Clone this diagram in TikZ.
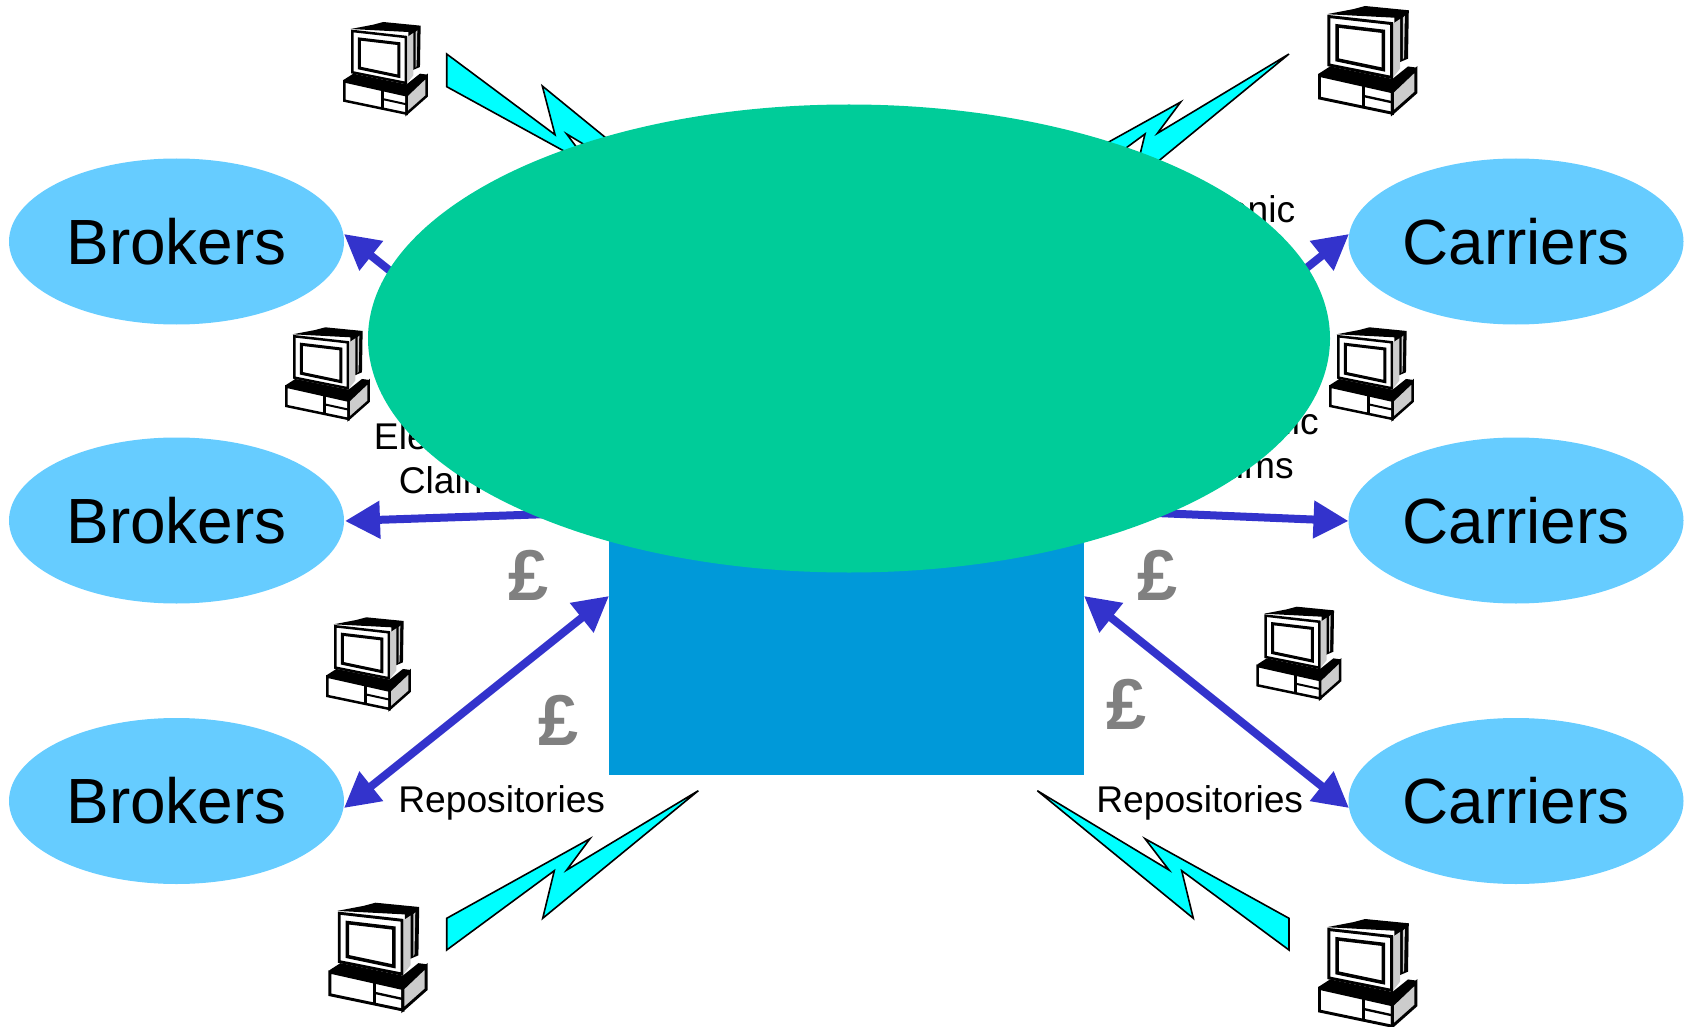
\documentclass[tikz,border=0pt]{standalone}
\usepackage{fontspec}
\setmainfont{Liberation Sans}
\usetikzlibrary{shapes.geometric,arrows.meta}
\definecolor{partyblue}{HTML}{66CCFF}
\definecolor{hubgreen}{HTML}{00CC99}
\definecolor{repoblue}{HTML}{0099D9}
\definecolor{flowblue}{HTML}{3333CC}
\definecolor{boltcyan}{HTML}{00FFFF}
\definecolor{pcgrey}{HTML}{CCCCCC}
\definecolor{poundgrey}{HTML}{808080}
\tikzset{
  party/.style={ellipse,fill=partyblue,minimum width=335pt,minimum height=166pt,inner sep=0pt,outer sep=0pt,font=\fontsize{63.9}{70}\selectfont},
  flow/.style={line width=8pt,draw=flowblue,{Triangle[length=35pt,width=36pt,fill=flowblue]}-{Triangle[length=35pt,width=36pt,fill=flowblue]}},
  flowone/.style={line width=8pt,draw=flowblue,-{Triangle[length=35pt,width=36pt,fill=flowblue]}},
  bolt/.style={fill=boltcyan,draw=black,line width=1.6pt,line join=miter},
  lbl/.style={font=\fontsize{37.2}{44.5}\selectfont,align=center,inner sep=0pt},
  pound/.style={font=\bfseries\fontsize{72}{72}\selectfont,text=poundgrey,inner sep=0pt}
}
\newcommand{\compu}[3]{%
  \begin{scope}[shift={(#1,#2)},scale=#3/3,line join=miter]
    \fill[black] (22,21)--(90,8)--(120,0)--(232,11)--(230,135)--(195,150)--(195,30)--cycle;
    \fill[pcgrey] (217,30)--(222,25)--(220,132)--(217,137)--cycle;
    \fill[pcgrey] (192,45)--(210,33)--(210,160)--(192,183)--cycle;
    \filldraw[fill=white,draw=black,line width=#3*2.5pt] (27,27)--(188,45)--(188,183)--(27,151)--cycle;
    \filldraw[fill=white,draw=black,line width=#3*3pt] (48,51)--(167,65)--(167,163)--(48,138)--cycle;
    \fill[black] (2,173)--(30,155)--(190,187)--(230,155)--(252,158)--(252,165)--(190,222)--(2,183)--cycle;
    \filldraw[fill=white,draw=black,line width=#3*2.5pt] (3,178)--(190,220)--(190,275)--(3,236)--cycle;
    \filldraw[fill=pcgrey,draw=black,line width=#3*2.5pt] (190,220)--(250,163)--(250,222)--(190,275)--cycle;
    \draw[black,line width=#3*2.5pt] (117,203)--(117,260);
    \draw[black,line width=#3*2pt] (117,231)--(190,247);
  \end{scope}}
\begin{document}
\begin{tikzpicture}[x=1pt,y=-1pt]
\useasboundingbox (0,0) rectangle (1690,1027);
% parties
\node[party] (b1) at (176.5,241.5) {\raisebox{-2pt}{Brokers}};
\node[party] (b2) at (176.5,520.5) {\raisebox{-2pt}{Brokers}};
\node[party] (b3) at (176.5,801) {\raisebox{-2pt}{Brokers}};
\node[party] (c1) at (1516,241.5) {\raisebox{-2pt}{Carriers}};
\node[party] (c2) at (1516,520.5) {\raisebox{-2pt}{Carriers}};
\node[party] (c3) at (1516,801) {\raisebox{-2pt}{Carriers}};
% ports
\coordinate (b1p) at (344,234);
\coordinate (b2p) at (345,521);
\coordinate (b3p) at (344,808);
\coordinate (c1p) at (1349,234);
\coordinate (c2p) at (1348.5,521);
\coordinate (c3p) at (1349,808);
\coordinate (r1) at (609,446);
\coordinate (r2) at (609,512);
\coordinate (r3) at (609,596);
\coordinate (s1) at (1084,446);
\coordinate (s2) at (1084,510);
\coordinate (s3) at (1084,596);
% bolts
\draw[bolt] (446.7,54)--(555,134.7)--(542.3,86)--(698.3,213.3)--(566.7,134)--(590,165.3)--(446.7,86.7)--cycle;
\draw[bolt] (1037.4,181.6)--(1180.7,102)--(1157.4,133.3)--(1289,54)--(1133.4,181.6)--(1145,134)--(1037.4,213.3)--cycle;
\draw[bolt] (446.7,918.3)--(590,838.7)--(566.7,870)--(698.3,790.7)--(542.7,918.3)--(554.3,870.7)--(446.7,950)--cycle;
\draw[bolt] (1037.3,790.7)--(1169,870)--(1145,838.7)--(1289,918.3)--(1289,950)--(1181.7,870.7)--(1193.3,918.3)--cycle;
% computers
\compu{343.3}{22}{1}
\compu{285.3}{327.3}{1}
\compu{326.3}{617.3}{1}
\compu{328.7}{902.7}{1.17}
\compu{1318.3}{6}{1.17}
\compu{1329.3}{327.3}{1}
\compu{1256.7}{606.7}{1}
\compu{1318.3}{919}{1.17}
% labels
\node[lbl] (t1) at (1213.5,209.5) {Electronic};
\node[lbl] (t2) at (455.6,458) {Electronic\\Claims};
\node[lbl] (t3) at (1237,443) {Electronic\\Claims};
\node[lbl,anchor=base] (t4) at (501.7,812.5) {Repositories};
\node[lbl,anchor=base] (t5) at (1199.7,812.5) {Repositories};
% pounds
\node[pound] (p1) at (529,575.3) {£};
\node[pound] (p2) at (558.5,720) {£};
\node[pound] (p3) at (1158,575.5) {£};
\node[pound] (p4) at (1126.5,704.5) {£};
% connectors
\draw[flowone] (r1) -- (b1p);
\draw[flowone] (r2) -- (b2p);
\draw[flow] (r3) -- (b3p);
\draw[flowone] (s1) -- (c1p);
\draw[flowone] (s2) -- (c2p);
\draw[flow] (s3) -- (c3p);
% centre
\node[rectangle,fill=repoblue,minimum width=475pt,minimum height=375pt,inner sep=0pt,outer sep=0pt] (repo) at (846.5,587.5) {};
\node[ellipse,fill=hubgreen,minimum width=962pt,minimum height=468pt,inner sep=0pt,outer sep=0pt] (hub) at (849,338.5) {};
\end{tikzpicture}
\end{document}
